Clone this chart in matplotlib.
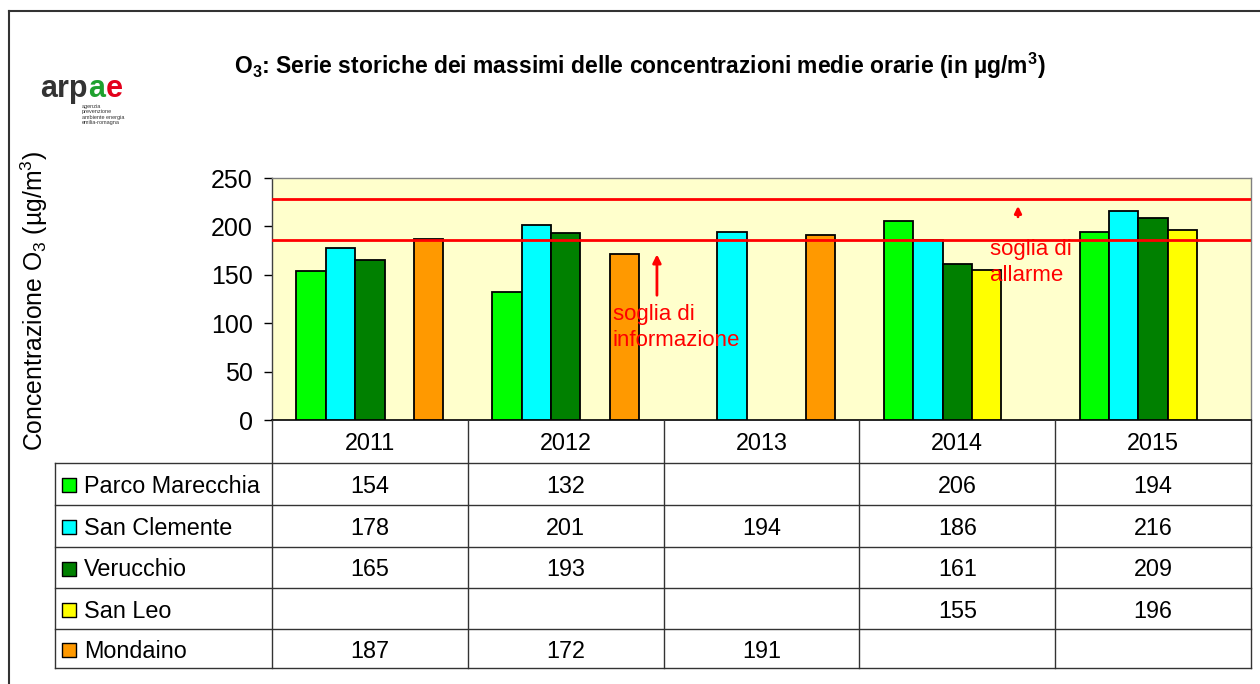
import matplotlib.pyplot as plt
import numpy as np
from matplotlib.lines import Line2D

plt.rcParams['font.family'] = ['Liberation Sans', 'DejaVu Sans']
plt.rcParams['mathtext.fontset'] = 'custom'
plt.rcParams['mathtext.rm'] = 'Liberation Sans'
plt.rcParams['mathtext.it'] = 'Liberation Sans:italic'
plt.rcParams['mathtext.bf'] = 'Liberation Sans:bold'

# dati
anni = ['2011', '2012', '2013', '2014', '2015']
stazioni = ['Parco Marecchia', 'San Clemente', 'Verucchio', 'San Leo', 'Mondaino']
parco_marecchia = [154, 132, None, 206, 194]
san_clemente = [178, 201, 194, 186, 216]
verucchio = [165, 193, None, 161, 209]
san_leo = [None, None, None, 155, 196]
mondaino = [187, 172, 191, None, None]
serie = [parco_marecchia, san_clemente, verucchio, san_leo, mondaino]
colori = ['#00FF00', '#00FFFF', '#008000', '#FFFF00', '#FF9900']

soglia_informazione = 186
soglia_allarme = 228

W, H = 1260, 684
fig = plt.figure(figsize=(W / 100, H / 100), dpi=100)

# cornice esterna
fig.add_artist(Line2D([9 / W, 9 / W], [0, 1 - 11 / H], color='#333333', lw=1.5))
fig.add_artist(Line2D([9 / W, 1], [1 - 11 / H, 1 - 11 / H], color='#333333', lw=1.5))

# area grafico
x0, x1, ytop, ybot = 272, 1251, 178, 420
ax = fig.add_axes([x0 / W, 1 - ybot / H, (x1 - x0) / W, (ybot - ytop) / H])
ax.set_facecolor('#FFFFCC')

pos = np.arange(len(anni))
larghezza = 0.15
for i, valori in enumerate(serie):
    xs = [p + (i - 2) * larghezza for p, v in zip(pos, valori) if v is not None]
    hs = [v for v in valori if v is not None]
    ax.bar(xs, hs, width=larghezza, color=colori[i], edgecolor='black', linewidth=1.3, zorder=3)

ax.axhline(soglia_informazione, color='#FF0000', lw=2, zorder=4)
ax.axhline(soglia_allarme, color='#FF0000', lw=2, zorder=4)

ax.set_xlim(-0.5, 4.5)
ax.set_ylim(0, 250)
ax.set_yticks([0, 50, 100, 150, 200, 250])
ax.tick_params(axis='y', labelsize=18, length=6, width=1, direction='out', pad=8)
ax.set_xticks([])
for s in ['top', 'right']:
    ax.spines[s].set_color('#808080')
    ax.spines[s].set_linewidth(1)
ax.spines['left'].set_linewidth(1)
ax.spines['left'].set_color('#404040')
ax.spines['bottom'].set_linewidth(1.2)

# annotazioni soglie
ax.annotate('', xy=(1.466, 174), xytext=(1.466, 126),
            arrowprops=dict(arrowstyle='-|>', color='#FF0000', lw=2, mutation_scale=12), zorder=5)
ax.text(1.24, 120, 'soglia di\ninformazione', color='#FF0000', fontsize=16,
        va='top', ha='left', linespacing=1.3, zorder=5)
ax.annotate('', xy=(3.31, 224), xytext=(3.31, 207),
            arrowprops=dict(arrowstyle='-|>', color='#FF0000', lw=2, mutation_scale=10), zorder=5)
ax.text(3.165, 187, 'soglia di\nallarme', color='#FF0000', fontsize=16,
        va='top', ha='left', linespacing=1.3, zorder=5)

# tabella dati (coordinate verticali in pixel)
tx0, tbot = 55, 668
righe = [420, 463, 505, 547, 588, 629, 668]
larg_cat = (x1 - x0) / 5
sx = -0.5 - (x0 - tx0) / larg_cat
tab = fig.add_axes([tx0 / W, 1 - tbot / H, (x1 - tx0) / W, (tbot - ybot) / H])
tab.set_xlim(sx, 4.5)
tab.set_ylim(tbot, ybot)
tab.axis('off')
lc = '#333333'
for r in righe[1:]:
    tab.plot([sx, 4.5], [r, r], color=lc, lw=1, clip_on=False)
for k in range(6):
    tab.plot([k - 0.5, k - 0.5], [righe[0], righe[-1]], color=lc, lw=1, clip_on=False)
tab.plot([sx, sx], [righe[1], righe[-1]], color=lc, lw=1, clip_on=False)

centri = [(a + b) / 2 for a, b in zip(righe[:-1], righe[1:])]
for j, anno in enumerate(anni):
    tab.text(j, centri[0], anno, ha='center', va='center_baseline', fontsize=16.8)
for i, (nome, valori) in enumerate(zip(stazioni, serie)):
    r = centri[i + 1]
    tab.scatter([sx + 0.07], [r + 1], marker='s', s=95, color=colori[i],
                edgecolor='black', linewidth=1, clip_on=False)
    tab.text(sx + 0.15, r, nome, ha='left', va='center_baseline', fontsize=16.8)
    for j, v in enumerate(valori):
        if v is not None:
            tab.text(j, r, str(v), ha='center', va='center_baseline', fontsize=16.8)

# titolo ed etichetta asse
fig.text(640 / W, 1 - 66 / H, r'O$_\mathbf{3}$: Serie storiche dei massimi delle concentrazioni medie orarie (in µg/m$^\mathbf{3}$)',
         ha='center', va='center', fontsize=16.5, fontweight='bold')
fig.text(34 / W, 1 - 301 / H, r'Concentrazione O$_3$ (µg/m$^3$)', rotation=90,
         ha='center', va='center', fontsize=17.8)

# logo
fig.text(40 / W, 1 - 97 / H, 'arp', color='#333333', fontsize=22, fontweight='bold', va='baseline')
fig.text(88 / W, 1 - 97 / H, 'a', color='#1FA12E', fontsize=22, fontweight='bold', va='baseline')
fig.text(106 / W, 1 - 97 / H, 'e', color='#E3001B', fontsize=22, fontweight='bold', va='baseline')
fig.text(82 / W, 1 - 104 / H, 'agenzia\nprevenzione\nambiente energia\nemilia-romagna',
         color='#333333', fontsize=4, va='top', ha='left', linespacing=1.1)

fig.savefig('out.png', dpi=100)
